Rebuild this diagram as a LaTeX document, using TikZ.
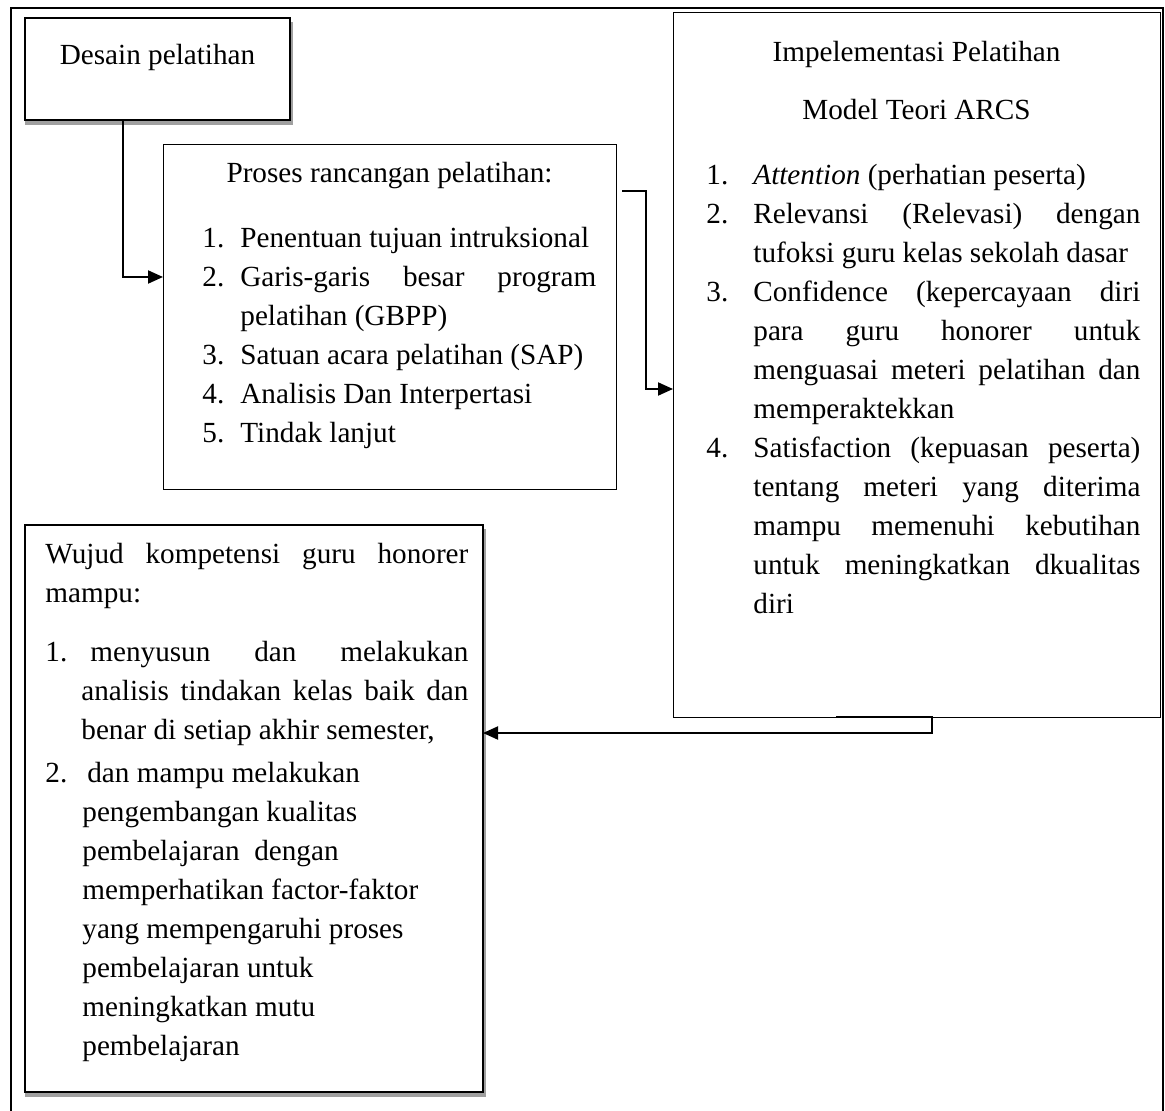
\documentclass[tikz,border=0pt]{standalone}
\usepackage{fontspec}
\setmainfont{Liberation Serif}
\usetikzlibrary{arrows.meta,calc}
\definecolor{shadowc}{HTML}{A0A0A0}
\newcommand\diagfont{\fontsize{14.6pt}{19.5pt}\selectfont}
\newcommand\jl[2]{\hbox to #1{\spaceskip=0.25em plus 1fil\relax #2}}
\newcommand\natsp{\spaceskip=0pt\xspaceskip=0pt\relax}
\begin{document}
\begin{tikzpicture}[x=0.5pt,y=-0.5pt,
  box/.style={draw, fill=white, inner sep=0pt, outer sep=0pt, anchor=north west, line width=0.5pt},
  conn/.style={line width=1pt, -{Triangle[length=7.5pt,width=6.5pt]}},
  ttl/.style={inner sep=0pt, anchor=base, font=\diagfont},
  blk/.style={inner sep=0pt, anchor=north west, align=left, font=\diagfont}]
\useasboundingbox (0,0) rectangle (1165,1111);
% outer frame
\draw[line width=1.3pt] (11,1111) -- (11,8) -- (1163,8) -- (1163,1111);
% shadows
\fill[shadowc] (25,22) rectangle (293,125);
\fill[shadowc] (25,529) rectangle (486,1097);
% boxes
\node[box, line width=0.75pt, minimum width=132.5pt, minimum height=51pt] (desain) at (25,18) {};
\node[box, minimum width=226.5pt, minimum height=172.5pt] (proses) at (163,145) {};
\node[box, minimum width=243.5pt, minimum height=352pt] (impl) at (673,13) {};
\node[box, line width=1pt, minimum width=229pt, minimum height=283.5pt] (wujud) at (25,525) {};
% texts
\node[ttl] (desainT) at (157.5,65) {Desain pelatihan};
\node[ttl] (prosesT) at (389.5,183) {Proses rancangan pelatihan:};
\node[blk, text width=198pt] (prosesL) at (202,219.7) {\natsp
\noindent\strut\makebox[19pt][l]{1.}Penentuan tujuan intruksional\\
\strut\makebox[19pt][l]{2.}\jl{178pt}{Garis-garis besar program}\\
\strut\hspace*{19pt}pelatihan (GBPP)\\
\strut\makebox[19pt][l]{3.}Satuan acara pelatihan (SAP)\\
\strut\makebox[19pt][l]{4.}Analisis Dan Interpertasi\\
\strut\makebox[19pt][l]{5.}Tindak lanjut};
\node[ttl] (implT1) at (916.5,62) {Impelementasi Pelatihan};
\node[ttl] (implT2) at (916.5,120) {Model Teori ARCS};
\node[blk, text width=218pt] (implL) at (706,156.7) {\natsp
\noindent\strut\makebox[23.5pt][l]{1.}\textit{Attention} (perhatian peserta)\\
\strut\makebox[23.5pt][l]{2.}\jl{193.5pt}{Relevansi (Relevasi) dengan}\\
\strut\hspace*{23.5pt}tufoksi guru kelas sekolah dasar\\
\strut\makebox[23.5pt][l]{3.}\jl{193.5pt}{Confidence (kepercayaan diri}\\
\strut\hspace*{23.5pt}\jl{193.5pt}{para guru honorer untuk}\\
\strut\hspace*{23.5pt}\jl{193.5pt}{menguasai meteri pelatihan dan}\\
\strut\hspace*{23.5pt}memperaktekkan\\
\strut\makebox[23.5pt][l]{4.}\jl{193.5pt}{Satisfaction (kepuasan peserta)}\\
\strut\hspace*{23.5pt}\jl{193.5pt}{tentang meteri yang diterima}\\
\strut\hspace*{23.5pt}\jl{193.5pt}{mampu memenuhi kebutihan}\\
\strut\hspace*{23.5pt}\jl{193.5pt}{untuk meningkatkan dkualitas}\\
\strut\hspace*{23.5pt}diri};
\node[blk, text width=212pt] (wujudL) at (45,535.7) {\natsp
\noindent\strut\jl{211.5pt}{Wujud kompetensi guru honorer}\\
\strut mampu:\\[10pt]
\strut\makebox[18pt][l]{1.}\hspace*{4.5pt}\jl{189pt}{menyusun dan melakukan}\\
\strut\hspace*{18pt}\jl{193.5pt}{analisis tindakan kelas baik dan}\\
\strut\hspace*{18pt}benar di setiap akhir semester,\\[2pt]
\strut\makebox[18pt][l]{2.}\hspace*{3pt}dan mampu melakukan\\
\strut\hspace*{18.5pt}pengembangan kualitas\\
\strut\hspace*{18.5pt}pembelajaran\ \ dengan\\
\strut\hspace*{18.5pt}memperhatikan factor-faktor\\
\strut\hspace*{18.5pt}yang mempengaruhi proses\\
\strut\hspace*{18.5pt}pembelajaran untuk\\
\strut\hspace*{18.5pt}meningkatkan mutu\\
\strut\hspace*{18.5pt}pembelajaran};
% connectors
\coordinate (d1) at ($(desain.south west)+(55,0)$);
\coordinate (d2) at ($(desain.south west)+(98,0)$);
\draw[conn] (d1) -- (d2) |- ($(proses.west)+(0,-40.5)$);
\coordinate (p1) at ($(proses.north east)+(6,46)$);
\draw[conn] (p1) -- ++(24,0) |- ($(impl.west)+(0,24)$);
\coordinate (i1) at ($(impl.south west)+(163,0)$);
\coordinate (i2) at ($(impl.south west)+(259,0)$);
\draw[conn] (i1) -- (i2) |- ($(wujud.east)+(0,-75.5)$);
\end{tikzpicture}
\end{document}
